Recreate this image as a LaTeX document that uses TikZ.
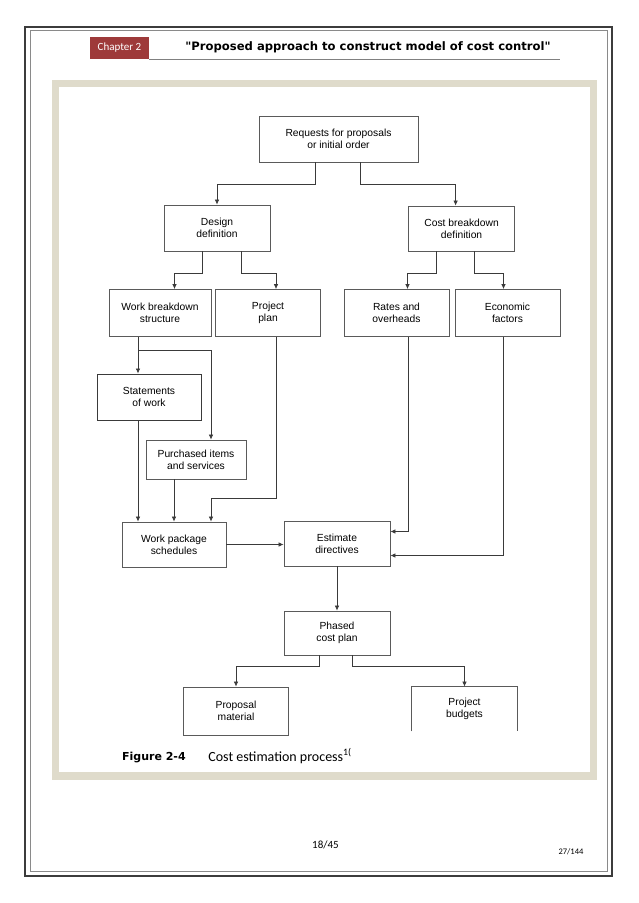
\documentclass[tikz,border=0pt]{standalone}
\usepackage{fontspec}
\setmainfont{Liberation Sans}
\newfontfamily\carlitofont{Carlito}
\newfontfamily\dejavufont{DejaVu Sans}
\usepackage{tikz}
\usetikzlibrary{arrows.meta}
\definecolor{chapterred}{HTML}{9E3A3A}
\definecolor{panelbeige}{HTML}{DFDBCB}
\definecolor{boxgray}{HTML}{5A5A5A}
\definecolor{linkgray}{HTML}{3A3A3A}
\definecolor{framegray}{HTML}{3C3C3C}

\begin{document}
\begin{tikzpicture}[x=1pt, y=-1pt, >={Latex[length=5pt,width=4.5pt]}, line width=0.8pt]
        \tikzset{
           planBox/.style={
                        rectangle,
                        draw=boxgray,
                        fill=white,
                        text=black,
                        align=center,
                        inner sep=0pt,
                        font=\fontsize{10.3}{12.3}\selectfont
                       },
           costBox/.style={
                        planBox
                       },
           workBox/.style={
                        planBox
                       },
           outBox/.style={
                        planBox,
                        draw=none
                       },
           link/.style={
                        ->,
                        draw=linkgray,
                        line width=0.7pt
                       },
                 };
        \useasboundingbox (0,0) rectangle (638,903);
    %-------------------- page
        \draw[framegray, line width=1.6pt] (24.7,26.7) rectangle (611.7,876);
        \draw[framegray!60, line width=0.6pt] (30,30.7) rectangle (607.7,871);

        \node[fill=chapterred, text=white, minimum width=59pt, minimum height=22pt, inner sep=0pt,
              font=\carlitofont\fontsize{11}{13}\selectfont] (chapter) at (119.5,48) {Chapter 2};
        \draw[gray, line width=0.6pt] (chapter.south east) -- ++(411,0);
        \node[anchor=west, inner sep=0pt, font=\dejavufont\bfseries\fontsize{11.6}{13}\selectfont]
              (title) at (185,47) {"Proposed approach to construct model of cost control"};

        \fill[panelbeige] (52.3,80) rectangle (597,780);
        \fill[white] (59,87) rectangle (590,772);
    %-------------------- boxes
        \node[planBox, minimum width=159pt, minimum height=46pt] (request)  at (338.5,139) {Requests for proposals\\or initial order};

        \node[planBox, minimum width=106pt, minimum height=46pt] (design)   at (217,228)   {Design\\definition};
        \node[costBox, minimum width=106pt, minimum height=45pt] (costDef)  at (461.6,228.5) {Cost breakdown\\definition};

        \node[workBox, minimum width=102pt, minimum height=47pt] (wbs)      at (160,313)   {Work breakdown\\structure};
        \node[planBox, minimum width=105pt, minimum height=47pt] (plan)     at (268,313)   {Project\\plan};
        \node[costBox, minimum width=105pt, minimum height=47pt] (rates)    at (396.5,313) {Rates and\\overheads};
        \node[costBox, minimum width=105pt, minimum height=47pt] (econ)     at (507.5,313) {Economic\\factors};

        \node[workBox, minimum width=104pt, minimum height=46pt, draw=linkgray, line width=1pt]
                                                                 (sow)      at (149,397)   {Statements\\of work};
        \node[workBox, minimum width=100pt, minimum height=39pt] (purchase) at (196,459.5) {Purchased items\\and services};

        \node[workBox, minimum width=104pt, minimum height=45pt] (wps)      at (174,544.5) {Work package\\schedules};
        \node[costBox, minimum width=106pt, minimum height=45pt] (estimate) at (337,543.5) {Estimate\\directives};

        \node[costBox, minimum width=106pt, minimum height=44pt] (phased)   at (337,633)   {Phased\\cost plan};

        \node[planBox, minimum width=104.5pt, minimum height=48pt] (proposal) at (236,711)  {Proposal\\material};
        \node[outBox,  minimum width=105pt, minimum height=44pt] (budget)   at (464.5,709) {Project\\budgets};
        \draw[boxgray] (budget.south west) |- (budget.north east) -- (budget.south east);
    %-------------------- connectors
        \draw[link] ([xshift=-23pt]request.south) -- ++(0,22) -| (design.north);
        \draw[link] ([xshift=22pt]request.south)  -- ++(0,22) -| ([xshift=-6pt]costDef.north);

        \draw[link] ([xshift=-14.5pt]design.south) -- ++(0,21.5) -| ([xshift=14.5pt]wbs.north);
        \draw[link] ([xshift=24pt]design.south)    -- ++(0,21.5) -| ([xshift=8pt]plan.north);
        \draw[link] ([xshift=-25pt]costDef.south)  -- ++(0,21.5) -| ([xshift=11pt]rates.north);
        \draw[link] ([xshift=13pt]costDef.south)   -- ++(0,21.5) -| ([xshift=-4pt]econ.north);

        \draw[link] ([xshift=-22pt]wbs.south) -- ([xshift=-11pt]sow.north);
        \draw[link] ([xshift=-22pt,yshift=-13pt]wbs.south) -| ([xshift=15pt]purchase.north);

        \draw[link] ([xshift=-11pt]sow.south)      -- ([xshift=-36pt]wps.north);
        \draw[link] ([xshift=-22pt]purchase.south) -- (wps.north);
        \draw[link] ([xshift=8pt]plan.south) |- ([xshift=37pt,yshift=23.5pt]wps.north) -- ([xshift=37pt]wps.north);

        \draw[link] (wps.east) -- (wps.east -| estimate.west);
        \draw[link] ([xshift=12pt]rates.south) |- ([yshift=12pt]estimate.east);
        \draw[link] ([xshift=-4pt]econ.south)  |- ([yshift=-12pt]estimate.east);

        \draw[link] (estimate.south) -- (phased.north);

        \draw[link] ([xshift=-18pt]phased.south) -- ++(0,11) -| (proposal.north);
        \draw[link] ([xshift=15pt]phased.south)  -- ++(0,11) -| (budget.north);
    %-------------------- caption and footer
        \node[anchor=west, inner sep=0pt, font=\dejavufont\bfseries\fontsize{11}{13}\selectfont]
              (figLabel) at (121.7,757) {Figure 2-4};
        \node[anchor=west, inner sep=0pt, font=\carlitofont\fontsize{14}{16}\selectfont]
              (figTitle) at (208,756) {Cost estimation process\textsuperscript{1(}};

        \node[font=\carlitofont\fontsize{11}{13}\selectfont] (pageNum)  at (325.5,845) {18/45};
        \node[font=\carlitofont\fontsize{8.5}{10}\selectfont] (totalNum) at (571,852)  {27/144};
    \end{tikzpicture}
\end{document}
